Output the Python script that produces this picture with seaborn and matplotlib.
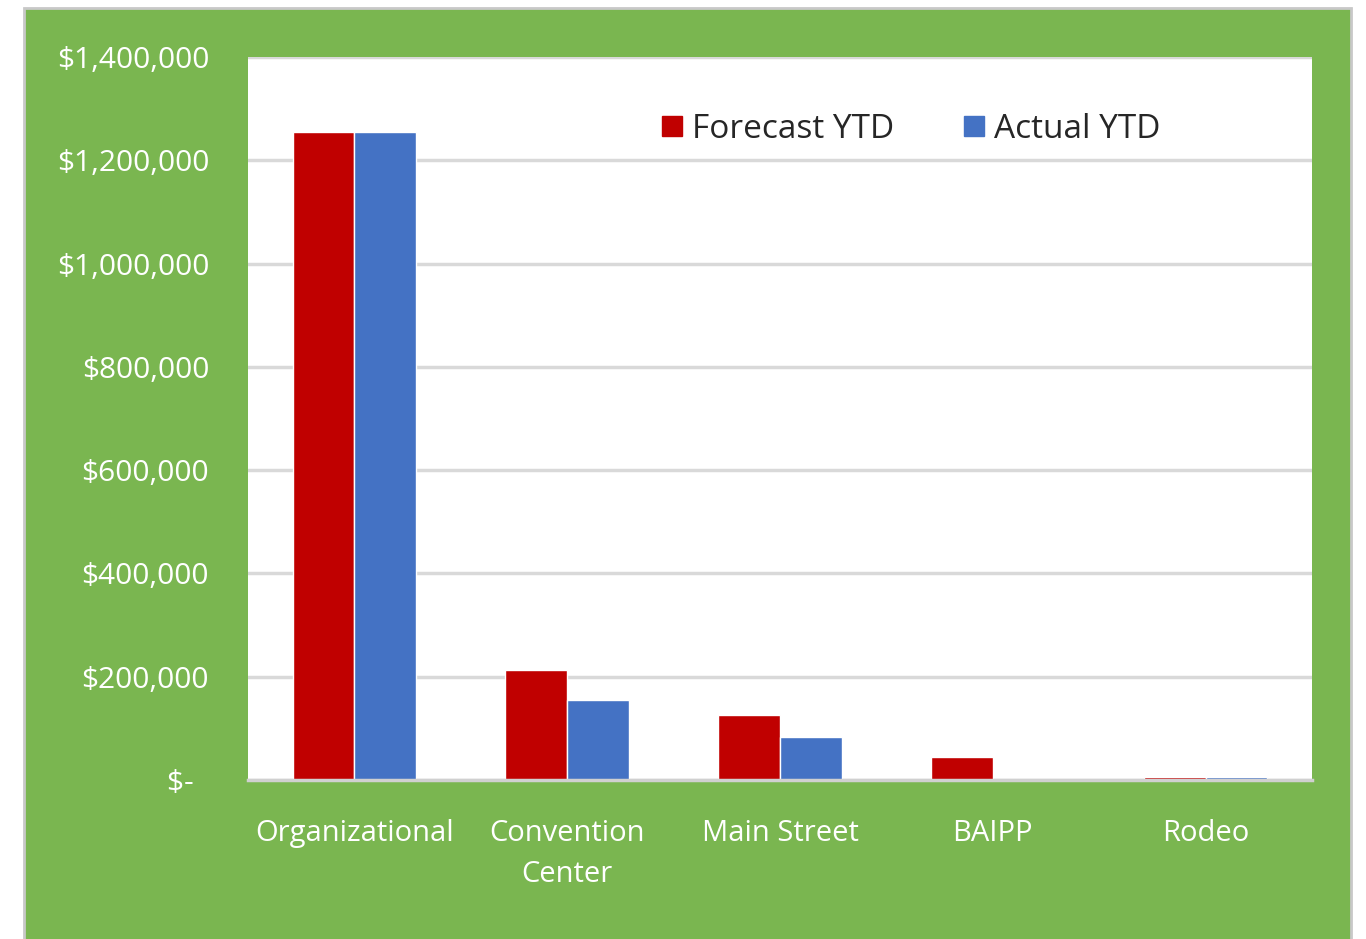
import pandas as pd
import matplotlib.pyplot as plt
import seaborn as sns
from matplotlib.patches import Rectangle
from matplotlib.lines import Line2D

categories = ["Organizational", "Convention\nCenter", "Main Street", "BAIPP", "Rodeo"]
forecast_ytd = [1255000, 213000, 126000, 44500, 5000]
actual_ytd = [1255000, 155000, 83000, 0, 5000]
series = ["Forecast YTD", "Actual YTD"]
colors = ["#C00000", "#4472C4"]
yticks = [0, 200000, 400000, 600000, 800000, 1000000, 1200000, 1400000]
ytick_labels = ["$-  ", "$200,000", "$400,000", "$600,000", "$800,000",
                "$1,000,000", "$1,200,000", "$1,400,000"]

df = pd.DataFrame({
    "category": categories * 2,
    "series": [series[0]] * 5 + [series[1]] * 5,
    "value": forecast_ytd + actual_ytd,
})

sns.set_style("white")
plt.rcParams["font.family"] = ["Open Sans", "DejaVu Sans"]

green = "#7AB650"
fig = plt.figure(figsize=(13.66, 9.39), dpi=100, facecolor="white")
# green panel behind the chart
fig.patches.append(Rectangle((24 / 1366, -0.05), (1351 - 24) / 1366, (939 - 8) / 939 + 0.05,
                             transform=fig.transFigure, facecolor=green,
                             edgecolor="#C8C8C8", linewidth=2, zorder=-10))

ax = fig.add_axes([248 / 1366, 1 - 780 / 939, (1312 - 248) / 1366, (780 - 57) / 939])
ax.set_zorder(5)
ax.set_facecolor("white")

sns.barplot(data=df, x="category", y="value", hue="series", palette=colors,
            width=0.58, saturation=1, ax=ax, legend=False)

ax.set_ylim(0, 1400000)
ax.set_xlim(-0.5, 4.5)
ax.set_yticks(yticks)
ax.set_yticklabels(ytick_labels)
ax.yaxis.grid(True, color="#D9D9D9", linewidth=2.5)
ax.set_axisbelow(True)
for s in ["left", "right", "top"]:
    ax.spines[s].set_visible(False)
ax.spines["bottom"].set_color("#D0D0D0")
ax.spines["bottom"].set_linewidth(2.5)
ax.tick_params(axis="y", length=0, pad=28, labelsize=21.5, labelcolor="white")
ax.tick_params(axis="x", length=0, pad=28, labelsize=21, labelcolor="white")
for lbl in ax.get_xticklabels():
    lbl.set_linespacing(1.55)
    lbl.set_verticalalignment("top")
ax.set_xlabel("")
ax.set_ylabel("")

handles = [Line2D([], [], marker="s", linestyle="", markersize=15,
                  markerfacecolor=c, markeredgecolor=c) for c in colors]
ax.legend(handles, series, loc="center", bbox_to_anchor=(0.62, 0.9), ncol=2,
          frameon=False, fontsize=24, handletextpad=0.1, columnspacing=1.9,
          handlelength=1.0)

fig.savefig("out.png", dpi=100, facecolor="white")
